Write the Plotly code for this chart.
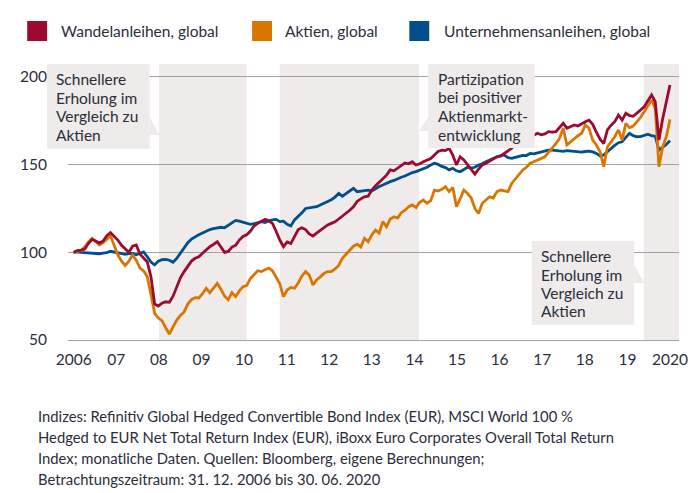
import plotly.graph_objects as go

# ---------------- data ----------------
# month index: 0 = 31.12.2006 ... 162 = 30.06.2020 (monthly)
months = list(range(163))

wandel = [
    100.0, 101.0, 101.2, 101.8, 105.0, 107.4, 106.5, 105.3, 106.5, 109.5,
    111.2, 109.0, 107.0, 104.0, 102.0, 100.0, 103.5, 104.2, 99.0, 97.0,
    94.5, 86.0, 70.5, 69.4, 71.0, 71.8, 71.5, 75.0, 80.0, 85.5,
    89.0, 92.0, 95.0, 96.6, 97.5, 99.5, 101.5, 103.2, 104.5, 106.0,
    103.0, 100.0, 100.5, 103.0, 104.0, 107.0, 109.0, 110.0, 112.0, 115.0,
    116.5, 117.5, 118.8, 118.0, 116.5, 112.0, 107.0, 103.2, 105.9, 105.0,
    109.0, 113.0, 114.0, 113.0, 110.5, 109.3, 111.0, 112.7, 114.0, 115.6,
    116.5, 117.4, 119.0, 120.5, 122.2, 124.0, 126.0, 129.0, 130.5, 131.7,
    132.0, 135.5, 138.0, 140.3, 142.0, 144.0, 147.0, 146.5, 148.0, 149.5,
    151.0, 150.5, 151.7, 149.8, 150.5, 151.7, 152.7, 153.5, 155.5, 157.5,
    158.3, 158.0, 159.3, 155.5, 149.8, 154.5, 152.7, 150.0, 147.9, 144.6,
    147.5, 149.8, 150.8, 152.0, 153.6, 154.5, 155.0, 156.4, 157.5, 159.3,
    162.0, 163.0, 164.0, 164.5, 165.5, 166.5, 167.9, 167.0, 167.5, 168.8,
    168.5, 168.8, 171.0, 173.6, 170.8, 171.5, 172.6, 172.0, 173.5, 174.5,
    175.4, 173.0, 168.5, 164.5, 162.0, 169.8, 172.5, 174.5, 178.3, 175.4,
    179.3, 178.0, 177.6, 179.3, 181.0, 183.0, 186.5, 189.7, 185.9, 164.0,
    176.0, 185.0, 195.4,
]

aktien = [
    100.0, 100.5, 101.0, 103.0, 106.0, 108.0, 106.0, 104.2, 105.5, 107.5,
    109.3, 104.0, 98.5, 95.0, 92.5, 95.0, 98.5, 95.5, 91.0, 89.5,
    86.0, 76.0, 65.2, 62.5, 61.0, 57.0, 53.4, 57.5, 61.4, 64.0,
    66.0, 70.5, 73.0, 74.2, 74.0, 76.5, 79.5, 77.0, 79.5, 82.3,
    79.0, 75.0, 73.0, 77.0, 74.8, 78.0, 80.4, 81.0, 85.0, 87.5,
    89.5, 89.0, 90.0, 91.0, 89.5, 86.0, 82.0, 74.7, 78.5, 80.0,
    79.5, 82.5, 86.5, 89.0, 87.0, 81.4, 84.2, 86.0, 88.0, 89.0,
    89.0, 90.5, 92.5, 96.6, 99.0, 101.3, 103.5, 104.7, 103.0, 108.0,
    106.0, 110.0, 112.7, 111.0, 117.5, 114.6, 119.0, 120.3, 119.5, 122.6,
    124.0, 126.0, 127.0, 125.5, 128.5, 129.8, 128.0, 129.5, 135.5, 135.0,
    135.9, 137.4, 134.6, 137.0, 126.0, 130.5, 135.5, 133.5, 131.0, 125.0,
    122.2, 128.0, 129.8, 131.7, 131.0, 134.6, 135.5, 135.0, 134.6, 139.3,
    142.0, 145.0, 147.0, 148.5, 150.8, 151.7, 152.7, 153.5, 154.5, 157.0,
    159.3, 162.0, 165.0, 170.8, 161.2, 163.0, 165.0, 166.5, 167.9, 172.6,
    170.8, 164.0, 161.2, 157.4, 148.8, 160.2, 163.0, 165.9, 169.8, 164.0,
    173.6, 171.0, 172.0, 174.5, 177.0, 180.2, 183.5, 186.9, 182.0, 148.8,
    160.0, 165.9, 175.8,
]

unternehmen = [
    100.0, 100.3, 100.0, 99.8, 99.6, 99.3, 99.0, 99.2, 99.5, 99.8,
    100.6, 100.2, 99.5, 99.3, 98.8, 99.2, 99.4, 98.6, 99.3, 100.2,
    97.5, 94.5, 92.8, 95.0, 95.8, 96.0, 95.5, 94.3, 96.5, 99.4,
    102.5, 105.5, 107.5, 109.0, 110.0, 111.0, 112.0, 113.0, 113.5, 114.0,
    114.3, 114.0, 115.5, 117.0, 118.2, 117.8, 117.2, 116.5, 116.0, 116.3,
    116.8, 117.5, 117.0, 118.0, 118.5, 118.8, 117.5, 117.8, 116.0, 115.0,
    118.5, 120.3, 122.5, 125.0, 125.3, 125.5, 126.0, 127.0, 128.0, 128.7,
    130.0, 131.5, 133.6, 132.0, 133.5, 135.0, 136.5, 134.6, 135.0, 135.3,
    135.5, 135.0, 136.5, 137.5, 138.4, 139.5, 140.3, 141.0, 142.0, 142.8,
    143.5, 144.5, 145.5, 146.0, 146.8, 147.5, 148.5, 149.8, 150.8, 150.2,
    149.0, 148.3, 147.0, 147.9, 146.5, 146.0, 147.5, 148.5, 148.0, 148.5,
    149.8, 150.5, 151.7, 152.7, 153.8, 154.5, 155.0, 155.5, 154.0, 153.6,
    154.2, 154.8, 155.3, 155.2, 156.4, 156.2, 156.8, 157.4, 158.0, 158.3,
    158.3, 158.2, 157.8, 157.6, 158.0, 157.8, 157.6, 157.4, 157.2, 157.5,
    157.7, 157.3, 156.4, 155.0, 155.5, 157.4, 159.5, 161.0, 162.5, 163.0,
    165.5, 167.9, 166.5, 165.9, 166.0, 166.8, 167.4, 166.5, 166.1, 158.3,
    159.8, 161.5, 163.7,
]

series_names = ["Wandelanleihen, global", "Aktien, global", "Unternehmensanleihen, global"]
tick_labels = ["2006", "07", "08", "09", "10", "11", "12", "13", "14",
               "15", "16", "17", "18", "19", "2020"]
y_ticks = [50, 100, 150, 200]
# shaded periods (month index start, end)
shade_periods = [(23.2, 47.0), (56.0, 93.8), (154.9, 164.45)]

callout_1 = ["Schnellere", "Erholung im", "Vergleich zu", "Aktien"]
callout_2 = ["Partizipation", "bei positiver", "Aktienmarkt-", "entwicklung"]
callout_3 = ["Schnellere", "Erholung im", "Vergleich zu", "Aktien"]

footer_lines = [
    "Indizes: Refinitiv Global Hedged Convertible Bond Index (EUR), MSCI World 100 %",
    "Hedged to EUR Net Total Return Index (EUR), iBoxx Euro Corporates Overall Total Return",
    "Index; monatliche Daten. Quellen: Bloomberg, eigene Berechnungen;",
    "Betrachtungszeitraum: 31. 12. 2006 bis 30. 06. 2020",
]

# ---------------- style / layout ----------------
colors = ["#9c0a30", "#d97600", "#004f8c"]
shade_color = "#eeebea"
text_color = "#2b2d3b"
grid_color = "#a3a3a3"
FONT = "Lato"

# the page body adds an 8 px offset; figure is sized so that it fits the window
OFF = 8
W, H = 700 - OFF, 493 - OFF
L, R, T, B = 66 - OFF, 20, 64 - OFF, 153
PW, PH = W - L - R, H - T - B


def px(x):
    """window pixel x -> paper x"""
    return (x - OFF - L) / PW


def py(y):
    """window pixel y -> paper y"""
    return (H - B - (y - OFF)) / PH


tick_positions = [i * 162 / 14 for i in range(len(tick_labels))]

fig = go.Figure()
series = [wandel, aktien, unternehmen]
for idx in [2, 1, 0]:
    fig.add_trace(go.Scatter(
        x=months, y=series[idx], mode="lines", name=series_names[idx],
        line=dict(color=colors[idx], width=2.8), showlegend=False,
        hoverinfo="skip",
    ))

shapes = []
for s0, s1 in shade_periods:
    shapes.append(dict(type="rect", xref="x", yref="paper", x0=s0, x1=s1, y0=0, y1=1,
                       fillcolor=shade_color, line=dict(width=0), layer="between"))

# callout boxes (window pixel geometry) with tails
boxes = [
    dict(box=(45, 64, 148, 149), tail=[(148, 117), (158, 135), (148, 135)],
         text=callout_1, tx=52, ty=[79, 97.5, 116, 134.5]),
    dict(box=(428, 64, 535, 148), tail=[(428, 117), (419, 131), (428, 131)],
         text=callout_2, tx=436, ty=[78.5, 97, 116, 135]),
    dict(box=(532, 241, 635, 325), tail=[(635, 265), (645, 283), (635, 283)],
         text=callout_3, tx=539, ty=[256, 274.5, 293, 311]),
]
annotations = []
for b in boxes:
    x0, y0, x1, y1 = b["box"]
    shapes.append(dict(type="rect", xref="paper", yref="paper",
                       x0=px(x0), x1=px(x1), y0=py(y1), y1=py(y0),
                       fillcolor=shade_color, line=dict(width=0), layer="above"))
    pts = b["tail"]
    path = "M " + " L ".join(f"{px(a):.5f},{py(c):.5f}" for a, c in pts) + " Z"
    shapes.append(dict(type="path", xref="paper", yref="paper", path=path,
                       fillcolor=shade_color, line=dict(width=0), layer="above"))
    for line_text, ty in zip(b["text"], b["ty"]):
        annotations.append(dict(xref="paper", yref="paper", x=px(b["tx"]), y=py(ty),
                                xanchor="left", yanchor="middle", showarrow=False,
                                text=line_text, font=dict(family=FONT, size=15.5, color=text_color)))

# legend (squares + labels)
legend_sq_x = [25, 251, 409]
legend_tx_x = [57, 282.5, 442]
for name, col, sx, tx in zip(series_names, colors, legend_sq_x, legend_tx_x):
    shapes.append(dict(type="rect", xref="paper", yref="paper",
                       x0=px(sx), x1=px(sx + 20), y0=py(41), y1=py(21),
                       fillcolor=col, line=dict(width=0)))
    annotations.append(dict(xref="paper", yref="paper", x=px(tx), y=py(31),
                            xanchor="left", yanchor="middle", showarrow=False,
                            text=name, font=dict(family=FONT, size=15.5, color=text_color)))

# footer
footer_y = [416, 437, 458, 479]
for line_text, fy in zip(footer_lines, footer_y):
    annotations.append(dict(xref="paper", yref="paper", x=px(34), y=py(fy),
                            xanchor="left", yanchor="middle", showarrow=False,
                            text=line_text, font=dict(family=FONT, size=14.8, color=text_color)))

fig.update_layout(
    width=W, height=H,
    margin=dict(l=L, r=R, t=T, b=B),
    paper_bgcolor="white", plot_bgcolor="white",
    font=dict(family=FONT, size=15, color=text_color),
    shapes=shapes, annotations=annotations,
    xaxis=dict(range=[-1.54, 164.45], tickmode="array", tickvals=tick_positions,
               ticktext=tick_labels, showgrid=False, zeroline=False,
               showline=True, linecolor=grid_color, linewidth=1,
               ticks="", ticklabelstandoff=5, tickfont=dict(size=15.5)),
    yaxis=dict(range=[50, 207.4], tickmode="array", tickvals=y_ticks,
               showgrid=True, gridcolor=grid_color, gridwidth=1, zeroline=False,
               showline=False, ticks="", ticklabelstandoff=20, tickfont=dict(size=15.5)),
    showlegend=False,
)

fig.write_html("out.html")
